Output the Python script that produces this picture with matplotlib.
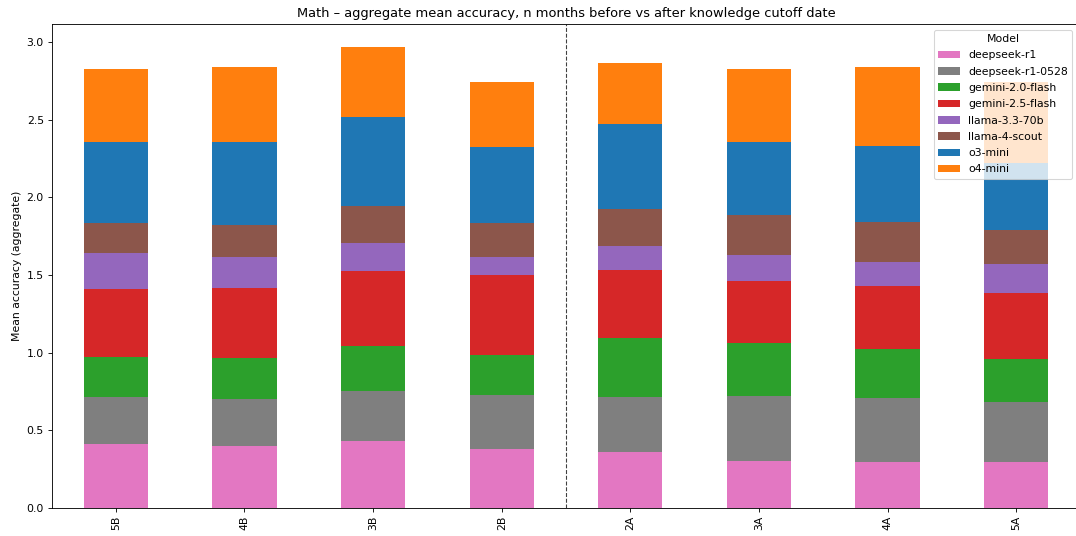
import matplotlib.pyplot as plt
import numpy as np

periods = ["5B", "4B", "3B", "2B", "2A", "3A", "4A", "5A"]
models = ["deepseek-r1", "deepseek-r1-0528", "gemini-2.0-flash", "gemini-2.5-flash",
          "llama-3.3-70b", "llama-4-scout", "o3-mini", "o4-mini"]
colors = ["#e377c2", "#7f7f7f", "#2ca02c", "#d62728",
          "#9467bd", "#8c564b", "#1f77b4", "#ff7f0e"]

# mean accuracy per model, one value per period
deepseek_r1 = [0.415, 0.402, 0.432, 0.379, 0.363, 0.303, 0.297, 0.297]
deepseek_r1_0528 = [0.301, 0.301, 0.319, 0.348, 0.353, 0.417, 0.413, 0.383]
gemini_20_flash = [0.256, 0.265, 0.290, 0.260, 0.376, 0.342, 0.311, 0.281]
gemini_25_flash = [0.441, 0.451, 0.482, 0.512, 0.443, 0.398, 0.409, 0.424]
llama_33_70b = [0.228, 0.196, 0.182, 0.116, 0.151, 0.166, 0.157, 0.183]
llama_4_scout = [0.196, 0.209, 0.237, 0.222, 0.237, 0.258, 0.254, 0.223]
o3_mini = [0.522, 0.531, 0.574, 0.488, 0.550, 0.475, 0.488, 0.428]
o4_mini = [0.469, 0.482, 0.452, 0.417, 0.394, 0.465, 0.508, 0.527]

series = [deepseek_r1, deepseek_r1_0528, gemini_20_flash, gemini_25_flash,
          llama_33_70b, llama_4_scout, o3_mini, o4_mini]

DPI = 78
fig = plt.figure(figsize=(1076 / DPI, 536 / DPI), dpi=DPI)
# the reference is cropped on the right, so the axes run past the figure edge
ax = fig.add_axes([51.5 / 1076, 28 / 536, 1029 / 1076, 484 / 536])

x = np.arange(len(periods))
bottom = np.zeros(len(periods))
for name, vals, c in zip(models, series, colors):
    ax.bar(x, vals, width=0.5, bottom=bottom, color=c, label=name)
    bottom += np.array(vals)

ax.axvline(3.5, color="0.25", linestyle="--", linewidth=1)

ax.set_xlim(-0.5, 7.5)
ax.set_xticks(x)
ax.set_xticklabels(periods, rotation=90)
ax.set_ylabel("Mean accuracy (aggregate)")
ax.set_title("Math \u2013 aggregate mean accuracy, n months before vs after knowledge cutoff date")
ax.legend(title="Model", loc="upper right", bbox_to_anchor=(0.992, 0.988),
          borderaxespad=0, labelspacing=0.58)

fig.savefig("out.png", dpi=DPI)
